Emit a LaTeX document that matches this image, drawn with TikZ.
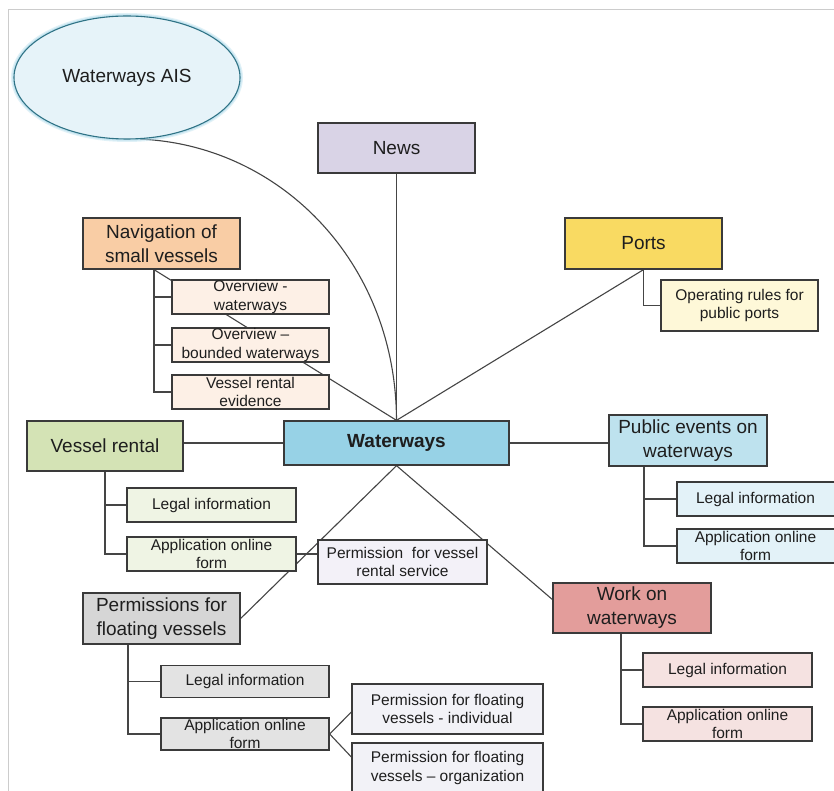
\documentclass[tikz,border=0pt]{standalone}
\usepackage{fontspec}
\setmainfont{Liberation Sans}
\usetikzlibrary{backgrounds,calc,shapes.geometric}

\definecolor{boxline}{HTML}{3A3A3A}
\definecolor{linkc}{HTML}{454545}
\definecolor{txt}{HTML}{1E1E1E}
\definecolor{framec}{HTML}{CCCCCC}
\definecolor{aisfill}{HTML}{E6F3F9}
\definecolor{aisline}{HTML}{2F7386}
\definecolor{aisglow}{HTML}{A9D8EA}
\definecolor{newsc}{HTML}{D9D3E6}
\definecolor{portsc}{HTML}{F9DA62}
\definecolor{portsub}{HTML}{FEF8D8}
\definecolor{navc}{HTML}{F9CDA5}
\definecolor{navsub}{HTML}{FDF0E6}
\definecolor{wwc}{HTML}{97D2E6}
\definecolor{vrc}{HTML}{D4E3B5}
\definecolor{vrsub}{HTML}{EFF4E4}
\definecolor{prsc}{HTML}{F3F1F8}
\definecolor{pec}{HTML}{BEE2EE}
\definecolor{pesub}{HTML}{E3F2F8}
\definecolor{workc}{HTML}{E39D9B}
\definecolor{worksub}{HTML}{F5E2E1}
\definecolor{pfc}{HTML}{D6D6D6}
\definecolor{pfsub}{HTML}{E3E3E3}
\definecolor{pfperm}{HTML}{F2F2F7}

\tikzset{
  bx/.style={draw=boxline, line width=1.3pt, inner sep=0pt, align=center, text=txt},
  mainbox/.style={bx, font=\fontsize{19}{24}\selectfont},
  subbox/.style={bx, font=\fontsize{15.5}{18.5}\selectfont},
  link/.style={draw=linkc, line width=1.1pt},
}

\begin{document}
\begin{tikzpicture}[x=1pt,y=-1pt]
\useasboundingbox (0,0) rectangle (834,791);
\clip (0,0) rectangle (834,791);

% ---------- ellipse with soft glow ----------
\draw[aisglow, opacity=0.35, line width=6pt] (127,77.5) ellipse [x radius=113, y radius=61.5];
\draw[aisglow, opacity=0.5, line width=3.5pt] (127,77.5) ellipse [x radius=113, y radius=61.5];
\node[draw=aisline, line width=1.1pt, fill=aisfill, ellipse, inner sep=0pt,
      minimum width=226pt, minimum height=123pt, text=txt,
      font=\fontsize{19}{23}\selectfont] (ais) at (127,77.5) {Waterways AIS};

% ---------- centre ----------
\node[mainbox, fill=wwc, minimum width=225pt, minimum height=44pt,
      font=\fontsize{19}{23}\selectfont\bfseries] (ww) at (396.5,443) {Waterways};

% ---------- top ----------
\node[mainbox, fill=newsc, minimum width=157pt, minimum height=50pt] (news) at (396.5,148) {News};
\node[mainbox, fill=portsc, minimum width=157pt, minimum height=51pt] (ports) at (643.5,243.5) {Ports};
\node[subbox, fill=portsub, minimum width=157pt, minimum height=51pt] (oprules) at (739.5,305.5) {Operating rules for\\public ports};

% ---------- navigation of small vessels ----------
\node[mainbox, fill=navc, minimum width=157pt, minimum height=51pt] (nav) at (161.5,243.5) {Navigation of\\small vessels};
\node[subbox, fill=navsub, minimum width=157pt, minimum height=34pt] (ov1) at (250.5,297) {Overview -\\waterways};
\node[subbox, fill=navsub, minimum width=157pt, minimum height=34pt] (ov2) at (250.5,345) {Overview --\\bounded waterways};
\node[subbox, fill=navsub, minimum width=157pt, minimum height=34pt] (ov3) at (250.5,392) {Vessel rental\\evidence};

% ---------- vessel rental ----------
\node[mainbox, fill=vrc, minimum width=156pt, minimum height=50pt] (vr) at (105,446) {Vessel rental};
\node[subbox, fill=vrsub, minimum width=169pt, minimum height=34pt] (vrl) at (211.5,505) {Legal information};
\node[subbox, fill=vrsub, minimum width=169pt, minimum height=34pt] (vra) at (211.5,554) {Application online\\form};
\node[subbox, fill=prsc, minimum width=169pt, minimum height=44pt] (prs) at (402.5,562) {Permission\ \ for vessel\\rental service};

% ---------- public events ----------
\node[mainbox, fill=pec, minimum width=158pt, minimum height=51pt] (pe) at (688,440.5) {Public events on\\waterways};
\node[subbox, fill=pesub, minimum width=163pt, minimum height=34pt] (pel) at (758.5,499) {\hspace*{-6pt}Legal information};
\node[subbox, fill=pesub, minimum width=163pt, minimum height=34pt] (pea) at (758.5,546) {\hspace*{-6pt}Application online\\\hspace*{-6pt}form};

% ---------- work on waterways ----------
\node[mainbox, fill=workc, minimum width=158pt, minimum height=50pt] (work) at (632,608) {Work on\\waterways};
\node[subbox, fill=worksub, minimum width=169pt, minimum height=34pt] (wl) at (727.5,670) {Legal information};
\node[subbox, fill=worksub, minimum width=169pt, minimum height=34pt] (wa) at (727.5,724) {Application online\\form};

% ---------- permissions for floating vessels ----------
\node[mainbox, fill=pfc, minimum width=157pt, minimum height=51pt] (pf) at (161.5,618.5) {Permissions for\\floating vessels};
\node[subbox, fill=pfsub, minimum width=168pt, minimum height=32pt] (pfl) at (245,681.5) {Legal information};
\node[subbox, fill=pfsub, minimum width=168pt, minimum height=32pt] (pfa) at (245,734) {Application online\\form};
\node[subbox, fill=pfperm, minimum width=191pt, minimum height=50pt] (pfi) at (447.5,709) {Permission for floating\\vessels - individual};
\node[subbox, fill=pfperm, minimum width=191pt, minimum height=50pt] (pfo) at (447.5,768) {Permission for floating\\vessels -- organization};

% ---------- connectors (behind the boxes) ----------
\begin{pgfonlayer}{background}
  \fill[white] (0,0) rectangle (834,791);
  % from the centre upwards
  \draw[link] (ww.north) -- (news.south);
  \draw[link] (ww.north) -- (ports.south);
  \draw[link] (ww.north) -- ([xshift=-7.5pt]nav.south);
  \draw[link] (ais.-78) .. controls (280,145) and (396,262) .. (ww.north);
  % sideways
  \draw[link] (ww.west) -- (ww.west -| vr.east);
  \draw[link] (ww.east) -- (ww.east -| pe.west);
  % downwards
  \draw[link] (ww.south) -- (pf.east);
  \draw[link] (ww.south) -- ([yshift=8.5pt]work.west);
  % ports
  \draw[link] (ports.south) |- (oprules.west);
  % navigation of small vessels
  \draw[link] ([xshift=-7.5pt]nav.south) |- (ov3.west);
  \draw[link] ([xshift=-7.5pt]nav.south |- ov1.west) -- (ov1.west);
  \draw[link] ([xshift=-7.5pt]nav.south |- ov2.west) -- (ov2.west);
  % vessel rental
  \draw[link] (vr.south) |- (vra.west);
  \draw[link] (vr.south |- vrl.west) -- (vrl.west);
  \draw[link] (vra.east) -- (vra.east -| prs.west);
  % public events
  \draw[link] ([xshift=-44pt]pe.south) |- (pea.west);
  \draw[link] ([xshift=-44pt]pe.south |- pel.west) -- (pel.west);
  % work on waterways
  \draw[link] ([xshift=-11pt]work.south) |- (wa.west);
  \draw[link] ([xshift=-11pt]work.south |- wl.west) -- (wl.west);
  % permissions for floating vessels
  \draw[link] ([xshift=-33.5pt]pf.south) |- (pfa.west);
  \draw[link] ([xshift=-33.5pt]pf.south |- pfl.west) -- (pfl.west);
  \draw[link] (pfa.east) -- ([yshift=-3pt]pfi.west);
  \draw[link] (pfa.east) -- ([yshift=11pt]pfo.west);
\end{pgfonlayer}

% ---------- page frame ----------
\draw[framec, line width=1.2pt] (8.5,791) -- (8.5,9.5) -- (834,9.5);
\end{tikzpicture}
\end{document}
